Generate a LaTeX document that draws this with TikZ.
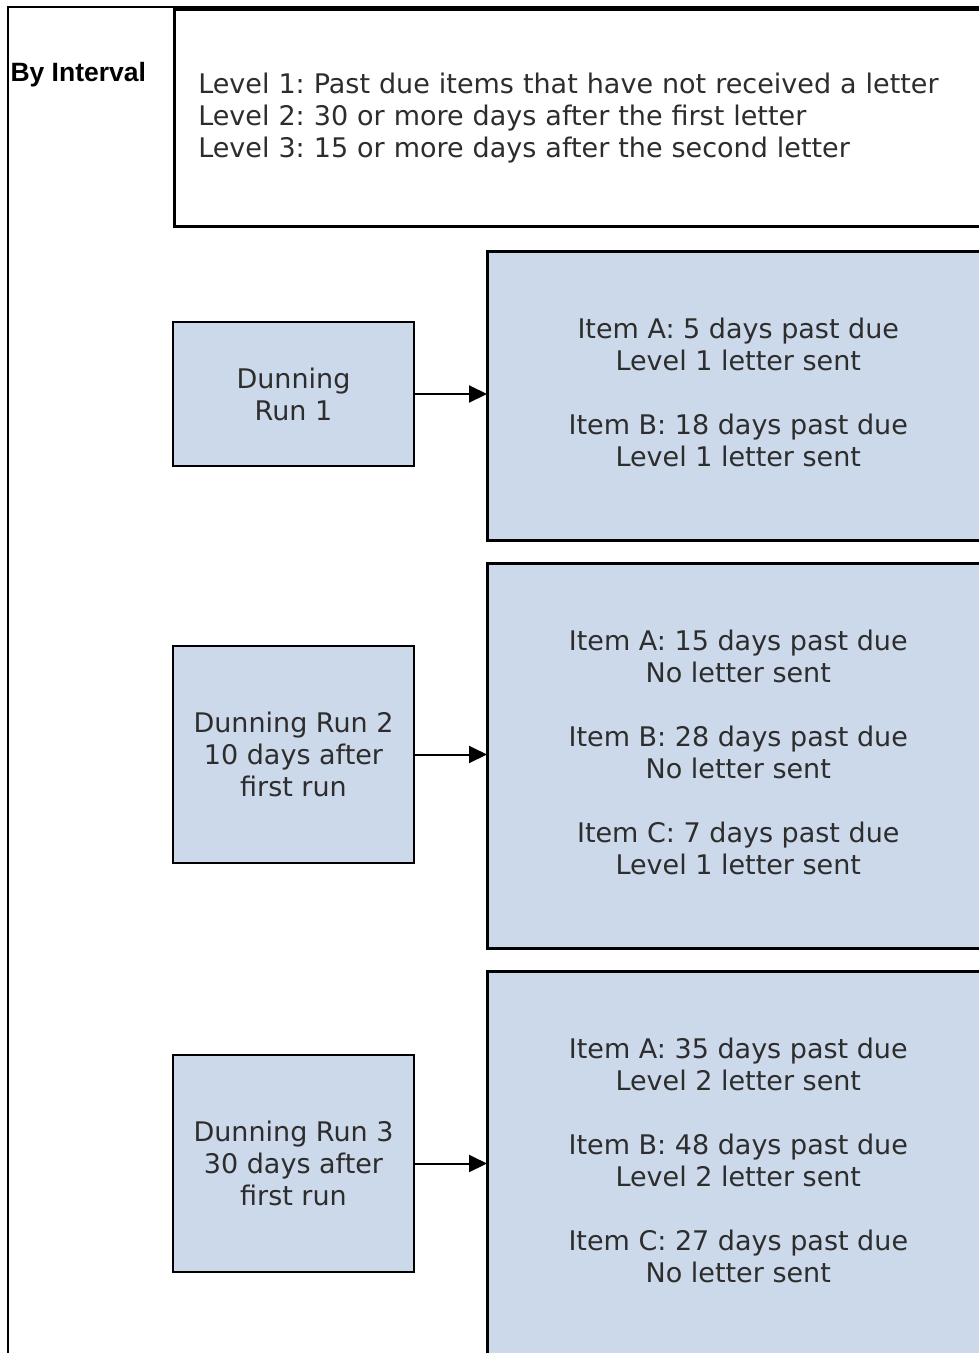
\documentclass[tikz,border=0pt]{standalone}
\usepackage{fontspec}
\setmainfont{DejaVu Sans}
\newfontfamily\headfont{Liberation Sans}
\usetikzlibrary{arrows.meta,positioning}

\definecolor{runblue}{RGB}{204,217,234}
\definecolor{inkgray}{RGB}{45,45,45}
\frenchspacing

\begin{document}
\begin{tikzpicture}[x=1pt,y=-1pt,>=Triangle,
    box/.style={draw=black,line width=2.6pt,inner sep=0pt,text=inkgray,
      font=\fontsize{27}{32}\selectfont},
    runbox/.style={box,fill=runblue,minimum width=241pt,align=center},
    itembox/.style={box,fill=runblue,minimum width=502pt,align=center,anchor=north west,
      text depth=8pt},
    flow/.style={->,line width=2pt,shorten <=-1pt,shorten >=-1pt}]
    \useasboundingbox (0,0) rectangle (979,1353);
    % page frame
    \draw[line width=2pt] (7.5,1353) -- (7.5,7) -- (979,7);
    \node[anchor=west,font=\headfont\bfseries\fontsize{26.5}{30}\selectfont] (title) at (7,75) {By Interval};
    % levels
    \node[box,anchor=north west,minimum width=820pt,minimum height=217pt,
      inner xsep=24pt,text width=772pt,align=left] (levels) at (173,8)
      {Level 1: Past due items that have not received a letter\\
       Level 2: 30 or more days after the first letter\\
       Level 3: 15 or more days after the second letter};
    % dunning runs
    \node[runbox,minimum height=144pt] (run1) at (293.5,394) {Dunning\\Run 1};
    \node[runbox,minimum height=217pt] (run2) at (293.5,754.5) {Dunning Run 2\\10 days after\\first run};
    \node[runbox,minimum height=217pt] (run3) at (293.5,1163.5) {Dunning Run 3\\30 days after\\first run};
    % items
    \node[itembox,minimum height=289pt] (items1) at (486,250)
      {Item A: 5 days past due\\Level 1 letter sent\\[32pt]
       Item B: 18 days past due\\Level 1 letter sent};
    \node[itembox,minimum height=385pt] (items2) at (486,562)
      {Item A: 15 days past due\\No letter sent\\[32pt]
       Item B: 28 days past due\\No letter sent\\[32pt]
       Item C: 7 days past due\\Level 1 letter sent};
    \node[itembox,minimum height=386pt] (items3) at (486,970)
      {Item A: 35 days past due\\Level 2 letter sent\\[32pt]
       Item B: 48 days past due\\Level 2 letter sent\\[32pt]
       Item C: 27 days past due\\No letter sent};
    % arrows
    \draw[flow,-{Triangle[length=18pt,width=17pt]}] (run1.east) -- (run1.east -| items1.west);
    \draw[flow,-{Triangle[length=18pt,width=17pt]}] (run2.east) -- (run2.east -| items2.west);
    \draw[flow,-{Triangle[length=18pt,width=17pt]}] (run3.east) -- (run3.east -| items3.west);
\end{tikzpicture}
\end{document}
